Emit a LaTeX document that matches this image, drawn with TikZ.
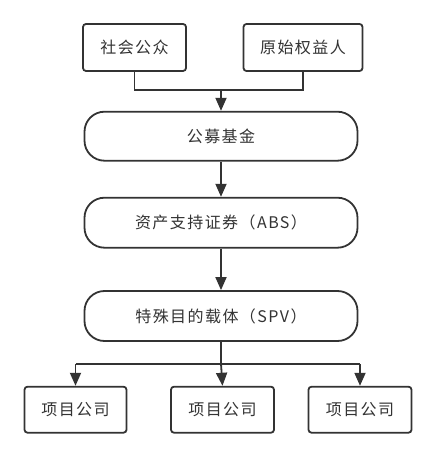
\documentclass[tikz,border=0pt]{standalone}
\usepackage{fontspec}
\newfontfamily\cjk[LetterSpace=9]{Noto Sans CJK SC}
\usetikzlibrary{arrows.meta}
\definecolor{ink}{HTML}{333333}
\tikzset{
  box/.style={draw=ink, line width=1.8pt, rounded corners=3pt, fill=white, text=ink,
    font=\cjk\fontsize{16}{18}\selectfont, inner sep=0pt},
  pill/.style={box, rounded corners=20pt, minimum width=273pt},
  link/.style={draw=ink, line width=1.8pt},
  arr/.style={link, -{Triangle[length=13pt,width=11pt]}}
}
\begin{document}
\begin{tikzpicture}[x=1pt,y=-1pt]
\useasboundingbox (0,0) rectangle (436,457);
\node[box, minimum width=103pt, minimum height=47pt] (a) at (134.5,47.5) {社会公众};
\node[box, minimum width=119pt, minimum height=47pt] (b) at (303,47.5) {原始权益人};
\node[pill, minimum height=49pt] (gm) at (221,136.2) {公募基金};
\node[pill, minimum height=50pt] (abs) at (221,222.7) {资产支持证券（ABS）};
\node[pill, minimum height=50pt] (spv) at (221,316) {特殊目的载体（SPV）};
\node[box, minimum width=102pt, minimum height=46pt] (p1) at (75.5,409.7) {项目公司};
\node[box, minimum width=103pt, minimum height=46pt] (p2) at (222.5,409.7) {项目公司};
\node[box, minimum width=103pt, minimum height=46pt] (p3) at (360,409.7) {项目公司};
\coordinate (j1) at (gm.north |- 0,90);
\coordinate (j2) at (spv.south |- 0,364);
\draw[link] (a.south) -- (a.south |- j1) -- (b.south |- j1) -- (b.south);
\draw[arr] (j1) -- (gm.north);
\draw[arr] (gm.south) -- (abs.north);
\draw[arr] (abs.south) -- (spv.north);
\draw[link] (spv.south) -- (j2);
\draw[link] (p1.north |- j2) -- (p3.north |- j2);
\draw[arr] (p1.north |- j2) -- (p1.north);
\draw[arr] (j2) -- (p2.north);
\draw[arr] (p3.north |- j2) -- (p3.north);
\end{tikzpicture}
\end{document}
